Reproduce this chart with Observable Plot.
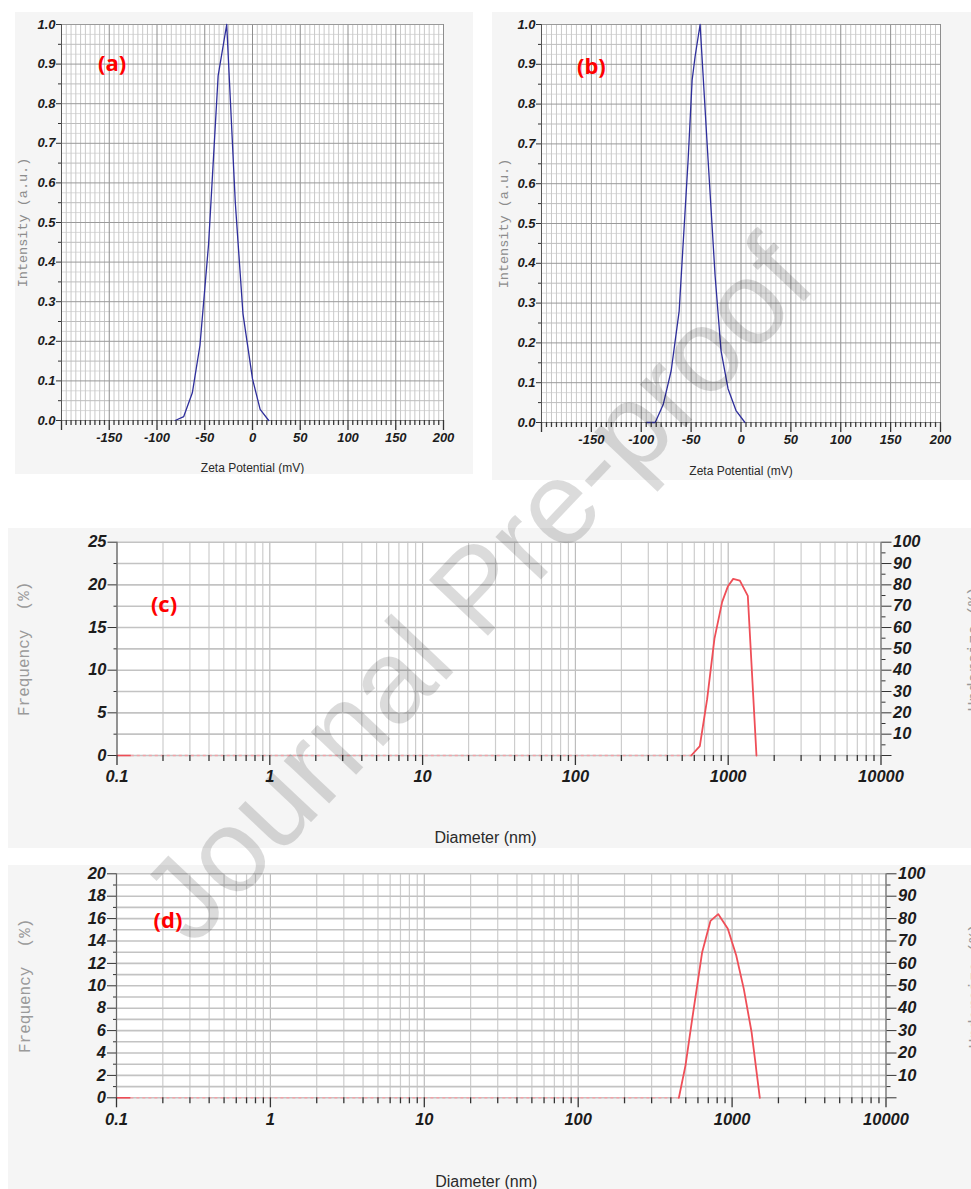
<!DOCTYPE html>
<html>
<head>
<meta charset="utf-8">
<script src="https://cdn.jsdelivr.net/npm/d3@7"></script>
<script src="https://cdn.jsdelivr.net/npm/@observablehq/plot@0.6"></script>
<style>
  html, body { margin: 0; padding: 0; background: #ffffff; overflow: hidden; }
  #page { position: relative; width: 971px; height: 1189px; overflow: hidden; }
</style>
</head>
<body>
<div id="page"></div>
<script>
// ---------------- data ----------------
// (a) zeta potential distribution
const zetaA_mV  = [-81, -72, -63, -55, -46, -36, -27, -18, -10, 0, 8, 17];
const zetaA_int = [0, 0.01, 0.07, 0.19, 0.445, 0.87, 1.0, 0.55, 0.27, 0.105, 0.028, 0];
// (b) zeta potential distribution
const zetaB_mV  = [-95, -86, -78, -70, -62, -53, -49, -46, -41, -33, -26, -20, -13, -5, 4];
const zetaB_int = [0, 0, 0.045, 0.13, 0.28, 0.66, 0.86, 0.92, 1.0, 0.66, 0.37, 0.18, 0.085, 0.03, 0];
// (c) size distribution
const diamC_nm  = [573, 652, 728, 813, 913, 994, 1078, 1192, 1344, 1531];
const freqC_pct = [0, 1.1, 6.6, 13.7, 18.0, 19.8, 20.7, 20.5, 18.7, 0];
// (d) size distribution
const diamD_nm  = [451, 498, 550, 639, 724, 812, 938, 1064, 1192, 1337, 1514];
const freqD_pct = [0, 2.9, 7.0, 13.0, 15.8, 16.4, 15.1, 12.7, 9.7, 5.9, 0];
// zero-level segment drawn solid at the left end of the size plots
const zeroSegment_nm = [0.1, 0.124];

// tick labels
const zetaTickLabels = [-150, -100, -50, 0, 50, 100, 150, 200];
const intensityTickLabels = [0, 0.1, 0.2, 0.3, 0.4, 0.5, 0.6, 0.7, 0.8, 0.9, 1.0];
const diameterTickLabels = [0.1, 1, 10, 100, 1000, 10000];
const freqTickLabelsC = [0, 5, 10, 15, 20, 25];
const freqTickLabelsD = [0, 2, 4, 6, 8, 10, 12, 14, 16, 18, 20];
const undersizeTickLabels = [10, 20, 30, 40, 50, 60, 70, 80, 90, 100];
const panelLetters = ["(a)", "(b)", "(c)", "(d)"];

// ---------------- helpers ----------------
const page = document.getElementById("page");

function hasFont(name) {
  const ctx = document.createElement("canvas").getContext("2d");
  const probe = "-150 0.9 abcdefMWxyz";
  ctx.font = "20px monospace";
  const w0 = ctx.measureText(probe).width;
  ctx.font = `20px '${name}', monospace`;
  return ctx.measureText(probe).width !== w0;
}
const narrow = hasFont("Liberation Sans Narrow");
const zetaTickFont = narrow ? "'Liberation Sans Narrow', 'Liberation Sans', sans-serif" : "'Liberation Sans', Arial, sans-serif";
const zetaTickSize = narrow ? 14 : 13;
const sansFont = "'Liberation Sans', Arial, sans-serif";
const monoFont = "'Liberation Mono', 'Courier New', monospace";
const letterFont = "'Open Sans', 'Liberation Sans', sans-serif";

function place(svg, left, top) {
  svg.style.position = "absolute";
  svg.style.left = left + "px";
  svg.style.top = top + "px";
  svg.style.maxWidth = "none";
  page.appendChild(svg);
}

const boldItalic = {fontWeight: "bold", fontStyle: "italic", fill: "#1c1c1c"};
const centered = {textAnchor: "middle", lineAnchor: "middle"};

// ---------------- zeta potential panels ----------------
function zetaPanel(cfg) {
  const rows = cfg.mV.map((v, i) => ({mV: v, intensity: cfg.intensity[i]}));
  const vGrid = d3.range(-200, 201, 5);
  const hGrid = d3.range(0, 41).map(i => i / 40);
  const svg = Plot.plot({
    width: cfg.width, height: cfg.height,
    marginLeft: cfg.mL, marginRight: cfg.mR, marginTop: cfg.mT, marginBottom: cfg.mB,
    style: {background: "#f5f5f5", fontFamily: sansFont, overflow: "hidden"},
    x: {type: "linear", domain: [-200, 200]},
    y: {type: "linear", domain: [0, 1]},
    marks: [
      Plot.frame({fill: "white", stroke: "none"}),
      // grid
      Plot.ruleY(hGrid.filter((d, i) => i % 2 === 1), {stroke: "#dadada", strokeWidth: 1}),
      Plot.ruleX(vGrid.filter(d => d % 50 !== 0), {stroke: "#c9c9c9", strokeWidth: 1}),
      Plot.ruleY(hGrid.filter((d, i) => i % 4 === 2), {stroke: "#bdbdbd", strokeWidth: 1}),
      Plot.ruleX(vGrid.filter(d => d % 50 === 0), {stroke: "#8e8e8e", strokeWidth: 1}),
      Plot.ruleY(hGrid.filter((d, i) => i % 4 === 0), {stroke: "#9a9a9a", strokeWidth: 1}),
      Plot.ruleX([-200], {stroke: "#555", strokeWidth: 1}),
      Plot.ruleY([0], {stroke: "#888", strokeWidth: 1}),
      // curve
      Plot.line(rows, {x: "mV", y: "intensity", stroke: "#2f2f9c", strokeWidth: 1.3}),
      // x axis ticks and labels
      Plot.axisX(vGrid.filter(d => d % 50 !== 0), {tickSize: 5, stroke: "#3a3a3a", strokeWidth: 1.3, fill: "none", label: null}),
      Plot.axisX(vGrid.filter(d => d % 50 === 0), {tickSize: 10, stroke: "#333", strokeWidth: 1.3, fill: "none", label: null}),
      Plot.axisX(zetaTickLabels, {tickSize: 0, tickPadding: 12, tickFormat: d => String(d), label: null,
        fontFamily: zetaTickFont, fontSize: zetaTickSize, ...boldItalic}),
      // y axis ticks and labels
      Plot.axisY(hGrid.filter((d, i) => i % 4 === 2), {tickSize: 3, stroke: "#333", fill: "none", label: null}),
      Plot.axisY(intensityTickLabels, {tickSize: 5, tickPadding: 1, stroke: "#333", tickFormat: d3.format(".1f"), label: null,
        fontFamily: zetaTickFont, fontSize: zetaTickSize, ...boldItalic}),
      // axis titles
      Plot.text(["Intensity (a.u.)"], {text: d => d, frameAnchor: "left", dx: cfg.yTitleDx, rotate: -90, ...centered,
        fontFamily: monoFont, fontSize: 13.5, fill: "#8c8c8c"}),
      Plot.text(["Zeta Potential (mV)"], {text: d => d, x: 0, frameAnchor: "bottom", dy: cfg.xTitleDy, ...centered,
        fontFamily: sansFont, fontSize: 12, fill: "#2a2a2a"}),
      // panel letter
      Plot.text([cfg.letter], {text: d => d, x: cfg.letterX, y: cfg.letterY, ...centered,
        fontFamily: letterFont, fontWeight: "bold", fontSize: 22, fill: "#ff0000"})
    ]
  });
  place(svg, cfg.left, cfg.top);
}

zetaPanel({mV: zetaA_mV, intensity: zetaA_int, letter: panelLetters[0], letterX: -147, letterY: 0.9,
  left: 15, top: 12, width: 458, height: 462, mL: 46, mR: 30, mT: 12, mB: 54, yTitleDx: -39, xTitleDy: 48});
zetaPanel({mV: zetaB_mV, intensity: zetaB_int, letter: panelLetters[1], letterX: -150, letterY: 0.893,
  left: 492, top: 12, width: 479, height: 468, mL: 49, mR: 31, mT: 12, mB: 58, yTitleDx: -38, xTitleDy: 49});

// ---------------- size distribution panels ----------------
const logGrid = [];
for (let k = -1; k <= 3; ++k) for (let m = 1; m <= 9; ++m) logGrid.push(m * 10 ** k);
logGrid.push(10000);
const isDecade = v => Math.abs(Math.log10(v) - Math.round(Math.log10(v))) < 1e-9;

function sizePanel(cfg) {
  const rows = cfg.nm.map((v, i) => ({nm: v, pct: cfg.freq[i]}));
  const k = cfg.ymax / 100; // undersize (%) -> frequency units
  const hGrid = d3.range(0, cfg.ymax + 1e-9, cfg.gridStep);
  const undersizeMinor = d3.range(5, 100, 10);
  const svg = Plot.plot({
    width: cfg.width, height: cfg.height,
    marginLeft: cfg.mL, marginRight: cfg.mR, marginTop: cfg.mT, marginBottom: cfg.mB,
    style: {background: "#f5f5f5", fontFamily: sansFont, overflow: "hidden"},
    x: {type: "log", domain: [0.1, 10000]},
    y: {type: "linear", domain: [0, cfg.ymax]},
    marks: [
      Plot.frame({fill: "white", stroke: "none"}),
      // grid
      Plot.ruleX(logGrid.filter(v => !isDecade(v)), {stroke: "#cdcdcd", strokeWidth: 1.2}),
      Plot.ruleX(logGrid.filter(isDecade), {stroke: "#bdbdbd", strokeWidth: 1.2}),
      Plot.ruleY(hGrid, {stroke: "#c3c3c3", strokeWidth: 1.6}),
      Plot.ruleX([0.1], {stroke: "#666", strokeWidth: 1.2}),
      Plot.ruleX([10000], {stroke: "#777", strokeWidth: 1.2}),
      // zero level: short solid piece, then dotted up to the distribution
      Plot.ruleY([0], {x1: zeroSegment_nm[1], x2: cfg.nm[0], stroke: "#f3a2a8", strokeWidth: 1.4, strokeDasharray: "3,3"}),
      Plot.ruleY([0], {x1: zeroSegment_nm[0], x2: zeroSegment_nm[1], stroke: "#ee4c55", strokeWidth: 1.6}),
      // curve
      Plot.line(rows, {x: "nm", y: "pct", stroke: "#ef4f58", strokeWidth: 1.8}),
      // x axis
      Plot.axisX(logGrid.filter(v => !isDecade(v)), {tickSize: 6, stroke: "#333", strokeWidth: 1.3, fill: "none", label: null}),
      Plot.axisX(logGrid.filter(isDecade), {tickSize: 10, stroke: "#333", strokeWidth: 1.3, fill: "none", label: null}),
      Plot.axisX(diameterTickLabels, {tickSize: 0, tickPadding: 15, tickFormat: d => String(d), label: null,
        fontFamily: sansFont, fontSize: 16.5, ...boldItalic}),
      // left axis (frequency)
      Plot.axisY(cfg.minorLeft, {tickSize: 3, stroke: "#333", fill: "none", label: null}),
      Plot.axisY(cfg.freqTicks, {tickSize: 9, tickPadding: 1.5, stroke: "#333", tickFormat: d => String(d), label: null,
        fontFamily: sansFont, fontSize: 16.5, ...boldItalic}),
      // right axis (undersize)
      Plot.axisY(undersizeMinor.map(v => v * k), {anchor: "right", tickSize: 4, stroke: "#333", fill: "none", label: null}),
      Plot.axisY([0], {anchor: "right", tickSize: 10, stroke: "#333", fill: "none", label: null}),
      Plot.axisY(undersizeTickLabels.map(v => v * k), {anchor: "right", tickSize: 10, tickPadding: 2, stroke: "#333",
        tickFormat: d => String(Math.round(d / k)), label: null, fontFamily: sansFont, fontSize: 16.5, ...boldItalic}),
      // axis titles
      Plot.text(["Frequency  (%)"], {text: d => d, frameAnchor: "left", dx: cfg.leftTitleDx, rotate: -90, ...centered,
        fontFamily: monoFont, fontSize: 16, fill: "#9a9a9a"}),
      Plot.text(["Undersize (%)"], {text: d => d, frameAnchor: "right", dx: cfg.rightTitleDx, rotate: -90, ...centered,
        fontFamily: monoFont, fontSize: 16, fill: "#9a9a9a"}),
      Plot.text(["Diameter (nm)"], {text: d => d, frameAnchor: "bottom", dx: cfg.xTitleDx, dy: cfg.xTitleDy, ...centered,
        fontFamily: sansFont, fontSize: 16, fill: "#2a2a2a"}),
      // panel letter
      Plot.text([cfg.letter], {text: d => d, x: cfg.letterX, y: cfg.letterY, ...centered,
        fontFamily: letterFont, fontWeight: "bold", fontSize: 22, fill: "#ff0000"})
    ]
  });
  place(svg, cfg.left, cfg.top);
}

sizePanel({nm: diamC_nm, freq: freqC_pct, ymax: 25, gridStep: 2.5, freqTicks: freqTickLabelsC,
  minorLeft: d3.range(2.5, 25, 5), letter: panelLetters[2], letterX: 0.203, letterY: 17.7,
  left: 8, top: 528, width: 963, height: 320, mL: 108.5, mR: 90.5, mT: 13.7, mB: 93,
  leftTitleDx: -93.5, rightTitleDx: 92.5, xTitleDx: -13.5, xTitleDy: 82});
sizePanel({nm: diamD_nm, freq: freqD_pct, ymax: 20, gridStep: 1, freqTicks: freqTickLabelsD,
  minorLeft: d3.range(1, 20, 2), letter: panelLetters[3], letterX: 0.216, letterY: 15.8,
  left: 8, top: 865, width: 963, height: 324, mL: 108, mR: 85.5, mT: 8.3, mB: 91.7,
  leftTitleDx: -91.5, rightTitleDx: 88.5, xTitleDx: -15, xTitleDy: 84});

// ---------------- watermark ----------------
const wm = Plot.plot({
  width: 971, height: 1189, margin: 0,
  style: {background: "transparent", fontFamily: sansFont, pointerEvents: "none"},
  marks: [
    Plot.text(["Journal Pre-proof"], {text: d => d, frameAnchor: "top-left", dx: 478, dy: 590, rotate: -46.6,
      textAnchor: "middle", lineAnchor: "middle", fontSize: 118, fill: "#000", fillOpacity: 0.14})
  ]
});
place(wm, 0, 0);
</script>
</body>
</html>
